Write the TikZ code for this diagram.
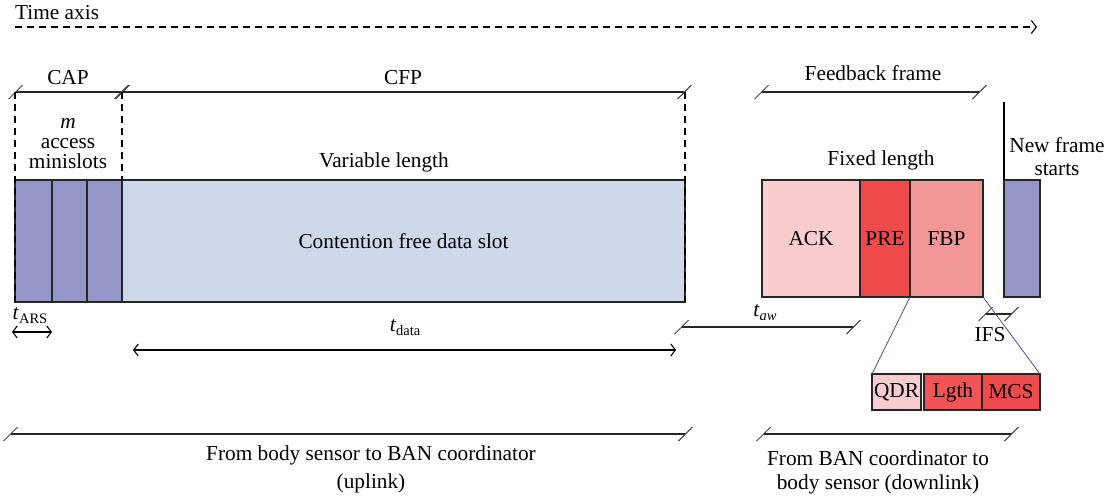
\documentclass[tikz,border=0pt]{standalone}
\usepackage{fontspec}
\setmainfont{Liberation Serif}
\usetikzlibrary{arrows.meta}
\definecolor{slotpurple}{HTML}{9596C8}
\definecolor{cfpblue}{HTML}{CDD8EB}
\definecolor{lightred}{HTML}{F9CDD0}
\definecolor{midred}{HTML}{F39697}
\definecolor{strongred}{HTML}{EF4A4B}
\definecolor{lgthred}{HTML}{F05456}
\definecolor{zoomblue}{HTML}{4A4FA8}
\newcommand\lowsub[1]{\raisebox{-0.4ex}{\fontsize{14.5}{14.5}\selectfont #1}}
\tikzset{
  lbl/.style={font=\fontsize{21.3}{23}\selectfont, inner sep=0pt, align=center},
  box/.style={draw=black!85, line width=1.1pt, anchor=north west, inner sep=0pt, outer sep=0pt},
  span/.style={line width=1.1pt, black!85, {Bar[width=14pt,slant=1,line width=1.1pt]}-{Bar[width=14pt,slant=1,line width=1.1pt]}},
  dur/.style={line width=1.1pt, {Straight Barb[length=4.5pt,width=12pt,line width=1.1pt]}-{Straight Barb[length=4.5pt,width=12pt,line width=1.1pt]}},
  guide/.style={line width=1.1pt, dash pattern=on 7pt off 5pt},
  zoomline/.style={zoomblue, line width=0.8pt}
}
\begin{document}
\begin{tikzpicture}[x=1pt,y=-1pt]
\useasboundingbox (0,0) rectangle (1110,501);

% time axis
\node[lbl, anchor=west] (tlabel) at (15,13) {Time axis};
\coordinate (t0) at (15,27);
\coordinate (t1) at (1037,27);
\draw[guide, -{Straight Barb[length=5pt,width=13pt,line width=1.1pt]}] (t0) -- (t1);

% uplink superframe: CAP minislots and contention free slot
\node[box, fill=slotpurple, minimum width=37pt, minimum height=122pt] (s1) at (15,180) {};
\node[box, fill=slotpurple, minimum width=35pt, minimum height=122pt] (s2) at (s1.north east) {};
\node[box, fill=slotpurple, minimum width=35pt, minimum height=122pt] (s3) at (s2.north east) {};
\node[box, fill=cfpblue, minimum width=563pt, minimum height=122pt] (cfp) at (s3.north east) {};
\node[lbl] at (cfp.center) {Contention free data slot};

% period markers
\coordinate (capL) at (15,92);
\coordinate (capR) at (122,92);
\coordinate (cfpR) at (685,92);
\draw[span] (capL) -- (capR);
\draw[span] (capR) -- (cfpR);
\draw[guide] (capL) -- (s1.south west);
\draw[guide] (capR) -- (s3.north east);
\draw[guide] (cfpR) -- (cfp.south east);
\node[lbl] (cap) at (68,78) {CAP};
\node[lbl] (cfplbl) at (403,78) {CFP};
\node[lbl, font=\fontsize{21.3}{20}\selectfont] (mini) at (68,144) {\textit{m}\\access\\minislots};
\node[lbl] (varlen) at (384,162) {Variable length};

% durations on the uplink
\node[lbl] (tars) at (30,316) {\textit{t}\lowsub{ARS}};
\coordinate (a0) at (12,332);
\coordinate (a1) at (52,332);
\draw[dur] (a0) -- (a1);
\node[lbl] (tdata) at (405,328) {\textit{t}\lowsub{data}};
\coordinate (d0) at (133,350);
\coordinate (d1) at (676,350);
\draw[dur] (d0) -- (d1);

% waiting time
\coordinate (w0) at (681,327);
\coordinate (w1) at (854,327);
\draw[span] (w0) -- (w1);
\node[lbl] (taw) at (765,313) {\textit{t}\lowsub{\textit{aw}}};

% feedback frame
\coordinate (f0) at (761,92);
\coordinate (f1) at (980,92);
\draw[span] (f0) -- (f1);
\node[lbl] (fb) at (873,73) {Feedback frame};
\node[lbl] (fixed) at (881,160) {Fixed length};
\node[box, fill=lightred, minimum width=98pt, minimum height=117pt] (ack) at (762,180) {};
\node[box, fill=strongred, minimum width=50pt, minimum height=117pt] (pre) at (ack.north east) {};
\node[box, fill=midred, minimum width=73pt, minimum height=117pt] (fbp) at (pre.north east) {};
\node[lbl] at (ack.center) {ACK};
\node[lbl] at (pre.center) {PRE};
\node[lbl] at (fbp.center) {FBP};

% start of the next frame
\node[box, fill=slotpurple, minimum width=36pt, minimum height=117pt] (next) at (1004,180) {};
\coordinate (nf) at (1004,102);
\draw[line width=1.1pt] (nf) -- (next.north west);
\node[lbl] (newf) at (1057,157) {New frame\\starts};

% inter-frame space
\coordinate (i0) at (985,314);
\coordinate (i1) at (1012,314);
\draw[span] (i0) -- (i1);
\node[lbl] (ifs) at (990,335) {IFS};

% feedback payload breakdown
\node[box, fill=lightred, minimum width=49pt, minimum height=36pt] (qdr) at (872,374) {};
\node[box, fill=lgthred, minimum width=58pt, minimum height=36pt] (lgth) at (924,374) {};
\node[box, fill=strongred, minimum width=58pt, minimum height=36pt] (mcs) at (lgth.north east) {};
\node[lbl] at (qdr.center) {QDR};
\node[lbl] at (lgth.center) {Lgth};
\node[lbl] at (mcs.center) {MCS};
\draw[zoomline] (fbp.south west) -- (qdr.north west);
\draw[zoomline] (fbp.south east) -- (mcs.north east);

% link directions
\coordinate (u0) at (10,434);
\coordinate (u1) at (686,434);
\draw[span] (u0) -- (u1);
\node[lbl, font=\fontsize{21.3}{28}\selectfont] (up) at (371,469) {From body sensor to BAN coordinator\\(uplink)};
\coordinate (dn0) at (763,434);
\coordinate (dn1) at (1012,434);
\draw[span] (dn0) -- (dn1);
\node[lbl, font=\fontsize{21.3}{24}\selectfont] (down) at (878,472) {From BAN coordinator to\\body sensor (downlink)};
\end{tikzpicture}
\end{document}
